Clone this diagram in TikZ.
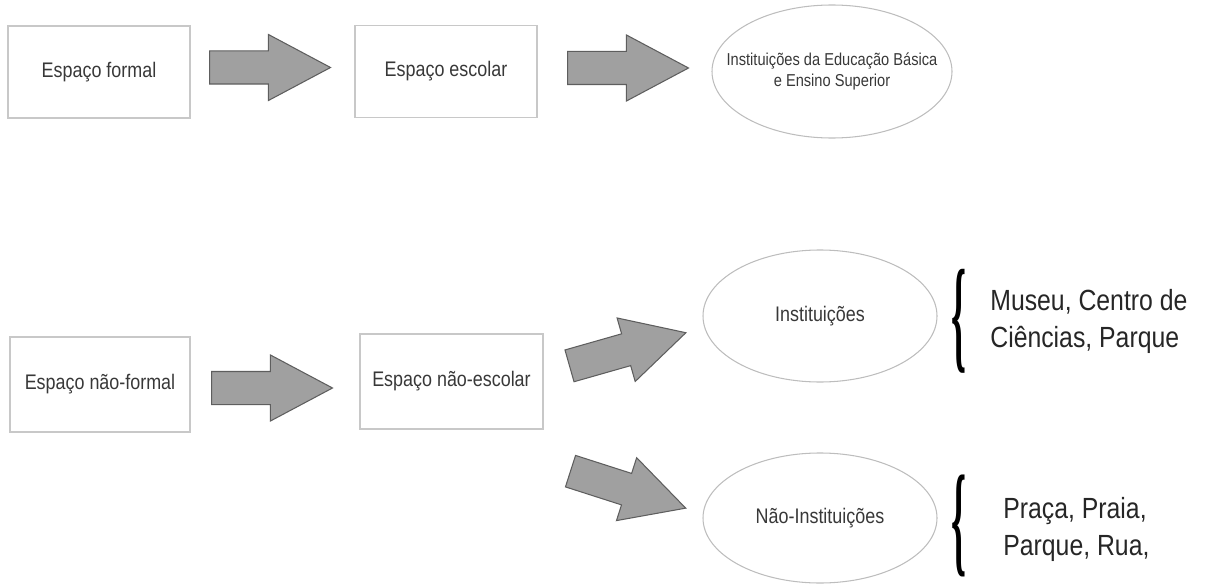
\documentclass[tikz,border=0pt]{standalone}
\usepackage{fontspec}
\setmainfont{Liberation Sans}[FakeStretch=0.85]
\newfontfamily\bracefont{Liberation Serif}
\usetikzlibrary{shapes.geometric,shapes.arrows}
\definecolor{boxline}{HTML}{C8C8C8}
\definecolor{ovalline}{HTML}{BDBDBD}
\definecolor{arrowfill}{HTML}{A0A0A0}
\definecolor{arrowline}{HTML}{5E5E5E}
\definecolor{txt}{HTML}{383838}
\begin{document}
\begin{tikzpicture}[
  box/.style={draw=boxline, line width=0.6pt, minimum width=3.64cm, minimum height=1.84cm, inner sep=0pt, text=txt, font=\fontsize{12}{14}\selectfont},
  oval/.style={ellipse, draw=ovalline, line width=0.6pt, inner sep=0pt, align=center, text=txt, font=\fontsize{12}{14}\selectfont},
  bigarrow/.style={single arrow, anchor=tail, draw=arrowline, fill=arrowfill, line width=0.6pt, minimum height=2.42cm, minimum width=0pt, inner xsep=0pt, inner ysep=0.32cm, single arrow head extend=0.33cm, single arrow tip angle=56},
  brace/.style={inner sep=0pt},
  listtext/.style={right, inner sep=0pt, align=left, text=black!85, font=\fontsize{16.6}{21}\selectfont}
]
\useasboundingbox (0,0) rectangle (24.3,11.68);
% formal
\node [box] (formal) at (1.98,10.24) {Espaço formal};
\node [bigarrow] (seta1) at (4.18,10.33) {};
\node [box] (escolar) at (8.92,10.25) {Espaço escolar};
\node [bigarrow] (seta2) at (11.34,10.32) {};
\node [oval, minimum width=4.8cm, minimum height=2.66cm, font=\fontsize{9.8}{12}\selectfont] (ies) at (16.64,10.25)
  {\makebox[0pt]{\begin{tabular}{@{}c@{}}Instituições da Educação Básica\\e Ensino Superior\end{tabular}}};
% nao-formal
\node [box, minimum width=3.6cm, minimum height=1.9cm] (naoformal) at (2.0,3.99) {Espaço não-formal};
\node [bigarrow] (seta3) at (4.22,3.92) {};
\node [box, minimum width=3.66cm, minimum height=1.9cm] (naoescolar) at (9.03,4.05) {Espaço não-escolar};
\node [bigarrow, rotate=15.9] (seta4) at (11.38,4.36) {};
\node [bigarrow, rotate=-17.8] (seta5) at (11.4,2.26) {};
\node [oval, minimum width=4.68cm, minimum height=2.64cm] (inst) at (16.4,5.36) {Instituições};
\node [oval, minimum width=4.68cm, minimum height=2.6cm] (naoinst) at (16.4,1.32) {Não-Instituições};
\node [brace] (chave1) at (19.18,5.26) {\resizebox*{0.3cm}{2.08cm}{\bracefont\bfseries\{}};
\node [listtext] (lista1) at (19.8,5.25) {Museu, Centro de\\Ciências, Parque};
\node [brace] (chave2) at (19.18,1.16) {\resizebox*{0.3cm}{2.04cm}{\bracefont\bfseries\{}};
\node [listtext] (lista2) at (20.06,1.09) {Praça, Praia,\\Parque, Rua,};
\end{tikzpicture}
\end{document}
